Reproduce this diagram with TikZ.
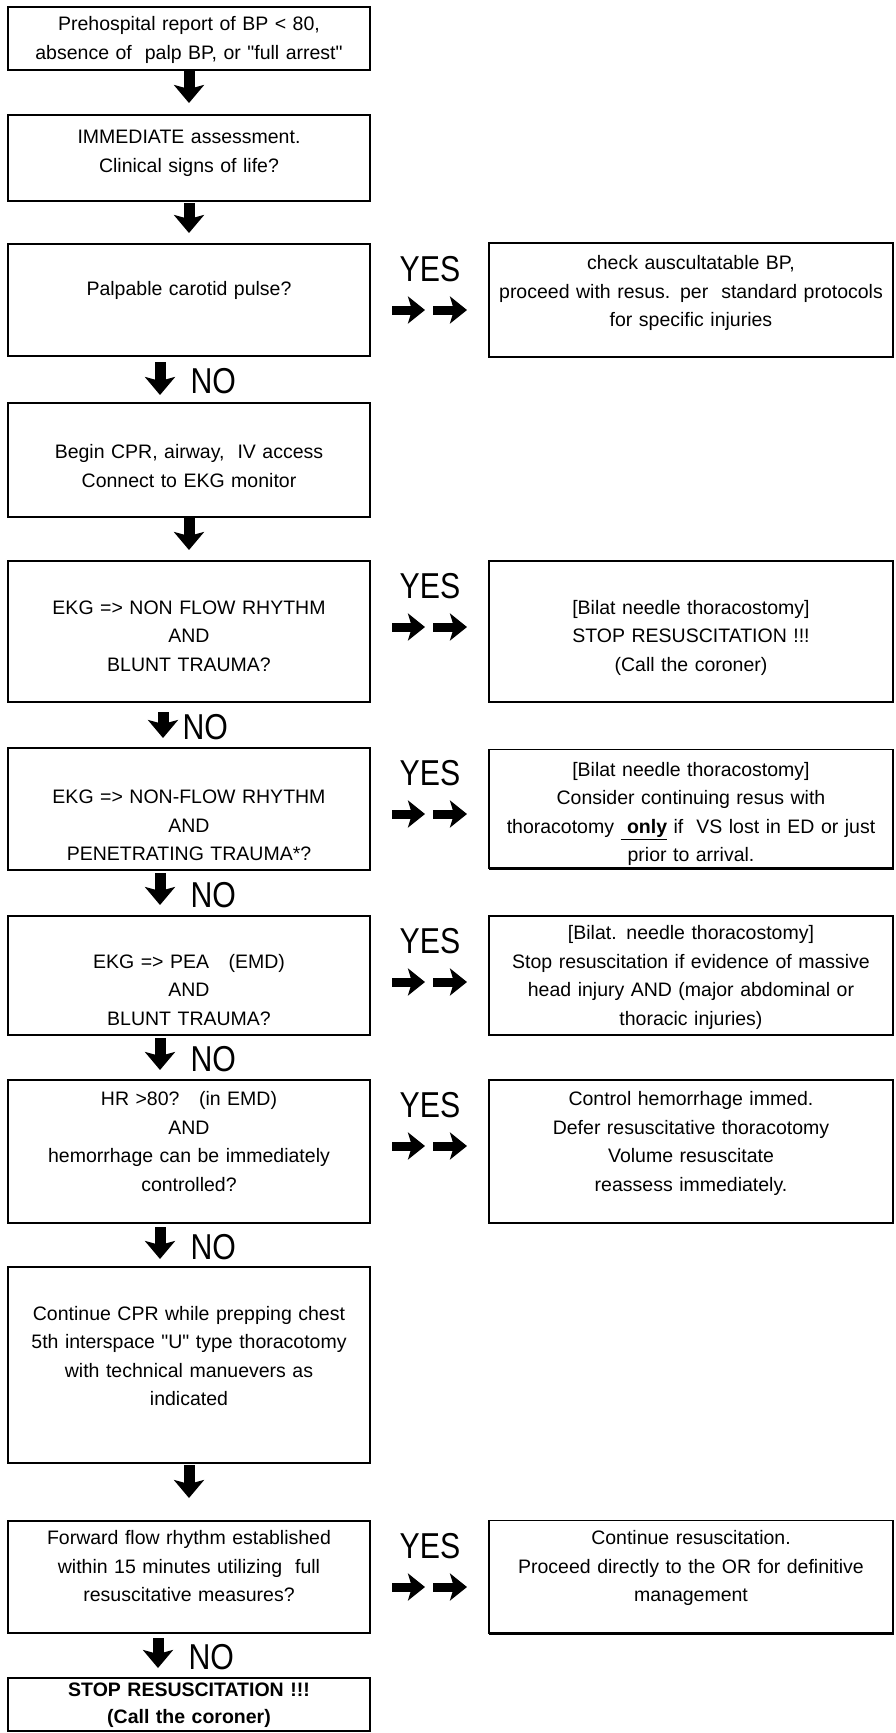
\documentclass[tikz,border=0pt]{standalone}
\usepackage{fontspec}
\setmainfont{Liberation Sans}
\newfontfamily\narrowsans{Liberation Sans}[FakeStretch=0.84]
\usetikzlibrary{arrows.meta, positioning, calc}
% invisible struts that set the top and bottom of a box text
\newcommand{\topstrut}[1]{\rule{0pt}{\dimexpr16pt+#1\relax}}
\newcommand{\botstrut}[1]{\rule[\dimexpr-5pt-#1\relax]{0pt}{\dimexpr5pt+#1\relax}}

\begin{document}
\begin{tikzpicture}[
    x=1pt, y=1pt,
    font=\fontsize{19.5}{28.5}\selectfont,
    lbox/.style={rectangle, draw, line width=1.2pt, outer sep=0pt, inner sep=0pt, minimum width=362pt, text width=356pt, align=center,
        execute at begin node={\topstrut{0pt}}, execute at end node={\botstrut{0pt}}},
    rbox/.style={lbox, minimum width=404pt, text width=398pt},
    tdown/.style={execute at begin node={\topstrut{#1}}},
    tup/.style={execute at end node={\botstrut{#1}}},
    shadowline/.style={line width=2.6pt},
    dnarrow/.style={-{Stealth[length=18pt, width=30pt, inset=4pt]}, line width=11pt},
    yesarrow/.style={-{Stealth[length=17pt, width=27pt, inset=4pt]}, line width=9pt},
    yeslabel/.style={font=\narrowsans\fontsize{36}{36}\selectfont, inner sep=0pt},
    nolabel/.style={font=\narrowsans\fontsize{36}{36}\selectfont, inner sep=0pt, anchor=west, xshift=25pt, yshift=-2pt}
]
    \useasboundingbox (0,0) rectangle (895,-1733);

    % Main column
    \node[lbox, minimum height=63pt, tdown=2pt] (b1) at (189,-38.5) {Prehospital report of BP < 80,\\absence of\ \ palp BP, or \textquotedbl full arrest\textquotedbl};
    \node[lbox, minimum height=86pt, tup=11pt] (b2) at (189,-158) {IMMEDIATE assessment.\\Clinical signs of life?};
    \node[lbox, minimum height=112pt, tup=21pt] (b3) at (189,-300) {Palpable carotid pulse?};
    \node[lbox, minimum height=114pt, tdown=15pt] (b4) at (189,-460) {Begin CPR, airway,\ \ IV access\\Connect to EKG monitor};
    \node[lbox, minimum height=141pt, tdown=11pt] (b5) at (189,-631.5) {EKG => NON FLOW RHYTHM\\AND\\BLUNT TRAUMA?};
    \node[lbox, minimum height=122pt, tdown=35pt] (b6) at (189,-809) {EKG => NON-FLOW RHYTHM\\AND\\PENETRATING TRAUMA*?};
    \node[lbox, minimum height=119pt, tdown=31pt] (b7) at (189,-975.5) {EKG => PEA\ \ \ (EMD)\\AND\\BLUNT TRAUMA?};
    \node[lbox, minimum height=143pt, tup=17pt] (b8) at (189,-1151.5) {HR >80?\ \ \ (in EMD)\\AND\\hemorrhage can be immediately\\controlled?};
    \node[lbox, minimum height=196pt, tup=15pt] (b9) at (189,-1365) {Continue CPR while prepping chest\\5th interspace \textquotedbl U\textquotedbl\ type thoracotomy\\with technical manuevers as\\indicated};
    \node[lbox, minimum height=112pt, tup=19pt] (b10) at (189,-1577) {Forward flow rhythm established\\within 15 minutes utilizing\ \ full\\resuscitative measures?};
    \node[lbox, minimum height=53pt, font=\fontsize{19.5}{27}\selectfont\bfseries] (b11) at (189,-1704.5) {STOP RESUSCITATION !!!\\(Call the coroner)};

    % YES branches
    \node[rbox, minimum height=114pt, tup=15pt, right=119pt of b3] (r3) {check auscultatable BP,\\proceed with resus. per\ \ standard protocols\\for specific injuries};
    \node[rbox, minimum height=141pt, tdown=11pt, right=119pt of b5] (r5) {[Bilat needle thoracostomy]\\STOP RESUSCITATION !!!\\(Call the coroner)};
    \node[rbox, minimum height=119pt, tdown=9pt, right=119pt of b6] (r6) {[Bilat needle thoracostomy]\\Consider continuing resus with\\thoracotomy\ \underline{\textbf{\ only}} if\ \ VS lost in ED or just\\prior to arrival.};
    \node[rbox, minimum height=119pt, tdown=3pt, right=119pt of b7] (r7) {[Bilat. needle thoracostomy]\\Stop resuscitation if evidence of massive\\head injury AND (major abdominal or\\thoracic injuries)};
    \node[rbox, minimum height=143pt, tup=17pt, right=119pt of b8] (r8) {Control hemorrhage immed.\\Defer resuscitative thoracotomy\\Volume resuscitate\\reassess immediately.};
    \node[rbox, minimum height=113pt, tup=19pt, right=119pt of b10] (r10) {Continue resuscitation.\\Proceed directly to the OR for definitive\\management};

    % Heavier right and bottom edges
    \foreach \n in {b1,b2,b3,b4,b5,b6,b7,b8,b9,b10,b11,r3,r5,r6,r7,r8,r10}
        \draw[shadowline] (\n.north east) |- (\n.south west);

    % Down arrows
    \draw[dnarrow, shorten >=12pt] (b1) -- (b2);
    \draw[dnarrow, shorten <=2pt, shorten >=11pt] (b2) -- (b3);
    \draw[dnarrow, shorten <=6pt, shorten >=8pt] ([xshift=-29pt]b3.south) -- node[nolabel] (n3) {NO} ([xshift=-29pt]b4.north);
    \draw[dnarrow, shorten >=11pt] (b4) -- (b5);
    \draw[dnarrow, shorten <=10pt, shorten >=10pt] ([xshift=-26pt]b5.south) -- node[nolabel, xshift=-11pt] (n5) {NO} ([xshift=-26pt]b6.north);
    \draw[dnarrow, shorten <=3pt, shorten >=11pt] ([xshift=-29pt]b6.south) -- node[nolabel] (n6) {NO} ([xshift=-29pt]b7.north);
    \draw[dnarrow, shorten <=3pt, shorten >=10pt] ([xshift=-29pt]b7.south) -- node[nolabel] (n7) {NO} ([xshift=-29pt]b8.north);
    \draw[dnarrow, shorten <=4pt, shorten >=8pt] ([xshift=-29pt]b8.south) -- node[nolabel] (n8) {NO} ([xshift=-29pt]b9.north);
    \draw[dnarrow, shorten <=2pt, shorten >=23pt] (b9) -- (b10);
    \draw[dnarrow, shorten <=5pt, shorten >=10pt] ([xshift=-31pt]b10.south) -- node[nolabel] (n10) {NO} ([xshift=-31pt]b11.north);

    % YES arrows
    \node[yeslabel] (y3) at ([shift={(60,-25)}]b3.north east) {YES};
    \draw[yesarrow] ([shift={(22,-66)}]b3.north east) -- ([shift={(55,-66)}]b3.north east);
    \draw[yesarrow] ([shift={(63,-66)}]b3.north east) -- ([shift={(97,-66)}]b3.north east);

    \node[yeslabel] (y5) at ([shift={(60,-25)}]b5.north east) {YES};
    \draw[yesarrow] ([shift={(22,-66)}]b5.north east) -- ([shift={(55,-66)}]b5.north east);
    \draw[yesarrow] ([shift={(63,-66)}]b5.north east) -- ([shift={(97,-66)}]b5.north east);

    \node[yeslabel] (y6) at ([shift={(60,-25)}]b6.north east) {YES};
    \draw[yesarrow] ([shift={(22,-66)}]b6.north east) -- ([shift={(55,-66)}]b6.north east);
    \draw[yesarrow] ([shift={(63,-66)}]b6.north east) -- ([shift={(97,-66)}]b6.north east);

    \node[yeslabel] (y7) at ([shift={(60,-25)}]b7.north east) {YES};
    \draw[yesarrow] ([shift={(22,-66)}]b7.north east) -- ([shift={(55,-66)}]b7.north east);
    \draw[yesarrow] ([shift={(63,-66)}]b7.north east) -- ([shift={(97,-66)}]b7.north east);

    \node[yeslabel] (y8) at ([shift={(60,-25)}]b8.north east) {YES};
    \draw[yesarrow] ([shift={(22,-66)}]b8.north east) -- ([shift={(55,-66)}]b8.north east);
    \draw[yesarrow] ([shift={(63,-66)}]b8.north east) -- ([shift={(97,-66)}]b8.north east);

    \node[yeslabel] (y10) at ([shift={(60,-25)}]b10.north east) {YES};
    \draw[yesarrow] ([shift={(22,-66)}]b10.north east) -- ([shift={(55,-66)}]b10.north east);
    \draw[yesarrow] ([shift={(63,-66)}]b10.north east) -- ([shift={(97,-66)}]b10.north east);
\end{tikzpicture}
\end{document}
